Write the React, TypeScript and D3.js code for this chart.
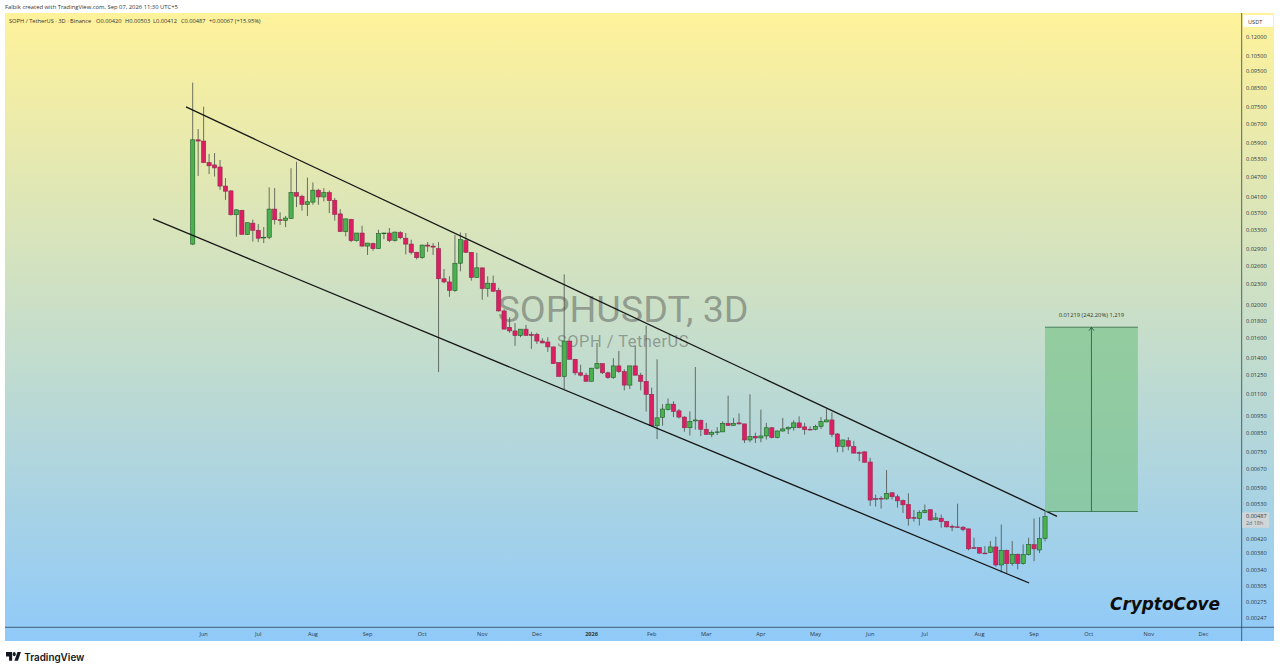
import { useEffect, useRef } from 'react';
import * as d3 from 'd3';

// SOPH / TetherUS 3D candles
const opens = [
  .0300, .0602, .0597, .0517, .0509, .0502, .0442, .0428, .0365, .0376,
  .0320, .0345, .0329, .0313, .0314, .0379, .0353, .0351, .0356, .0423,
  .0413, .0391, .0397, .0430, .0411, .0423, .0402, .0367, .0326, .0354,
  .0307, .0323, .0296, .0301, .0291, .0323, .0323, .0307, .0324, .0312,
  .0300, .0284, .0274, .0298, .0296, .0291, .0238, .0233, .0220, .0264,
  .0307, .0284, .0240, .0256, .0223, .0231, .0220, .0192, .0172, .0168,
  .0163, .0170, .0164, .0164, .0157, .0156, .0151, .0136, .0124, .0157,
  .0139, .0127, .0125, .0120, .0131, .0135, .0127, .0123, .0133, .0128,
  .0117, .0133, .0125, .0120, .0110, .00892, .00943, .00993, .0103, .00985,
  .00945, .0088, .00921, .00925, .00871, .00842, .00853, .00856, .00906, .00894,
  .00909, .00903, .00811, .00831, .00822, .00833, .0088, .00824, .00861, .00873,
  .0088, .00909, .00885, .00871, .00871, .00888, .00915, .00927, .00844, .00776,
  .00807, .00776, .00745, .00749, .00700, .00548, .00549, .00547, .00570, .00555,
  .00541, .00527, .00483, .00480, .00499, .00509, .00477, .00481, .0047, .00455,
  .00454, .00453, .00448, .00395, .00395, .00381, .00383, .00397, .00352, .00388,
  .00355, .00378, .00355, .00377, .00403, .00389, .0042,
];
const highs = [
  .0882, .0647, .0751, .0548, .0551, .0526, .0466, .0429, .0379, .0377,
  .0346, .0353, .0343, .0336, .0438, .0436, .0371, .0362, .0498, .0520,
  .0417, .0468, .0453, .0434, .0436, .0429, .0408, .0379, .0355, .0355,
  .0323, .0339, .0302, .0303, .0330, .0324, .0334, .0326, .0327, .0323,
  .0309, .0285, .0299, .0304, .0302, .0304, .0254, .0242, .0319, .0324,
  .0323, .0284, .0283, .0256, .0242, .0243, .0224, .0194, .0184, .0177,
  .0170, .0175, .0167, .0166, .0160, .0161, .0151, .0136, .0245, .0157,
  .0139, .0134, .0127, .0131, .0155, .0135, .0128, .0140, .0147, .0130,
  .0133, .0152, .0127, .0174, .0115, .0139, .0103, .0107, .0105, .00997,
  .0095, .00982, .0132, .00929, .00909, .00865, .00883, .00918, .0109, .0094,
  .00968, .00903, .0110, .00851, .00993, .00909, .00883, .00865, .0094, .00888,
  .00925, .0095, .00909, .00888, .00898, .00945, .00997, .00975, .0085, .00813,
  .00826, .00806, .00752, .00752, .00720, .00563, .00557, .00663, .00572, .00563,
  .00545, .00568, .00508, .00507, .00527, .0051, .00499, .00493, .00472, .00461,
  .0053, .00456, .00448, .00422, .00396, .00399, .00413, .00425, .00461, .0039,
  .00413, .0038, .00404, .00422, .0048, .00484, .00503,
];
const lows = [
  .0298, .0473, .0515, .0479, .0471, .0431, .0403, .0363, .0315, .0320,
  .0319, .0305, .0304, .0302, .0310, .0342, .0341, .0336, .0356, .0384,
  .0375, .0362, .0390, .0390, .0399, .0369, .0351, .0326, .0316, .0304,
  .0305, .0295, .0279, .0287, .0291, .0310, .0304, .0305, .0310, .0280,
  .0280, .0271, .0272, .0285, .0279, .01277, .0231, .0211, .0218, .0250,
  .0283, .0235, .0240, .0207, .0211, .0218, .0191, .0170, .0166, .0152,
  .0161, .0163, .0149, .0154, .0155, .0146, .0135, .0124, .0114, .0139,
  .0125, .0124, .0120, .0120, .0130, .0126, .0122, .0122, .0127, .0113,
  .0114, .0125, .0113, .0098, .00888, .00816, .00892, .00988, .00945, .00936,
  .00857, .00835, .00869, .00832, .0084, .00826, .00838, .00856, .00892, .00892,
  .00900, .00795, .00799, .00795, .00799, .00813, .0082, .0082, .00858, .00844,
  .00863, .00877, .0084, .00865, .00865, .00873, .00912, .00826, .00747, .00747,
  .00757, .00741, .00704, .00697, .00522, .0052, .00513, .00545, .00545, .00516,
  .00498, .00458, .0047, .00458, .00497, .00474, .00475, .00451, .00452, .00441,
  .00451, .00441, .00388, .00392, .00379, .00379, .00381, .00348, .00335, .00333,
  .0035, .00342, .00353, .00375, .00361, .00381, .00412,
];
const closes = [
  .0602, .0597, .0517, .0506, .0499, .0442, .0427, .0365, .0377, .0320,
  .0346, .0329, .0312, .0314, .0379, .0353, .0351, .0357, .0423, .0413,
  .0391, .0398, .0430, .0411, .0423, .0401, .0366, .0326, .0355, .0307,
  .0323, .0296, .0302, .0291, .0322, .0323, .0307, .0325, .0313, .0300,
  .0284, .0274, .0298, .0296, .0294, .0238, .0233, .0220, .0264, .0309,
  .0284, .0240, .0256, .0223, .0231, .0219, .0192, .0170, .0168, .0163,
  .0170, .0163, .0163, .0157, .0155, .0151, .0135, .0124, .0157, .0139,
  .0127, .0125, .0120, .0131, .0135, .0127, .0123, .0133, .0128, .0117,
  .0133, .0125, .0120, .0110, .00892, .0094, .00997, .0103, .00982, .00945,
  .0088, .00918, .00927, .00871, .00842, .00853, .00856, .00906, .00894, .00906,
  .00903, .00811, .00829, .00822, .00833, .0088, .00824, .00861, .00873, .00881,
  .00909, .00881, .00869, .00867, .00888, .00917, .00927, .00842, .00776, .00811,
  .00778, .00743, .00743, .00699, .00543, .00547, .00548, .00568, .00555, .0054,
  .00526, .0048, .00482, .00499, .00507, .00475, .00482, .0047, .00454, .00454,
  .00453, .00446, .00392, .00394, .00381, .0038, .00397, .00352, .00388, .00355,
  .00378, .00355, .00377, .00403, .00392, .0042, .00487,
];

const priceTicks = [
  .12, .105, .095, .085, .075, .067, .059, .053, .047, .041, .037, .033, .029, .026, .023,
  .02, .018, .016, .014, .0125, .011, .0095, .0085, .0075, .0067, .0059, .0053,
  .0042, .0038, .0034, .00305, .00275, .00247,
];
const monthLabels = ['Jun', 'Jul', 'Aug', 'Sep', 'Oct', 'Nov', 'Dec', '2026', 'Feb', 'Mar', 'Apr', 'May', 'Jun', 'Jul', 'Aug', 'Sep', 'Oct', 'Nov', 'Dec'];
const monthBars = [2, 12, 22, 32, 42, 53, 63, 73, 84, 94, 104, 114, 124, 134, 144, 154, 164, 175, 185];

const legendTexts = ['SOPH / TetherUS · 3D · Binance', 'O0.00420', 'H0.00503', 'L0.00412', 'C0.00487', '+0.00067 (+15.95%)'];
const legendLefts = [9, 96, 125, 153, 181, 209];

// drawings: [bar, price] at both ends
const upperChannel = [[-1.23, .075], [158.2, .00487]];
const lowerChannel = [[-7.26, .0355], [153.1, .00312]];
const targetBars = [156, 173];
const targetPrices = [.00503, .01722];

const lastPrice = .00487;

export default function App() {
  const svgRef = useRef<SVGSVGElement>(null);

  useEffect(() => {
    const svg = d3.select(svgRef.current);
    svg.selectAll('*').remove();

    const left = 5;
    const right = 1274;
    const top = 13;
    const bottom = 641;
    const axisX = 1241.7;
    const axisY = 627.3;

    const x = d3.scaleLinear().domain([0, 156]).range([192.7, 1045]);
    const y = d3.scaleLog().domain([.12, .00247]).range([36.5, 618]);

    const defs = svg.append('defs');
    const grad = defs.append('linearGradient').attr('id', 'bg').attr('x1', 0).attr('y1', 0).attr('x2', 0).attr('y2', 1);
    grad.append('stop').attr('offset', '0%').attr('stop-color', '#fff29a');
    grad.append('stop').attr('offset', '100%').attr('stop-color', '#90caf9');

    svg.append('rect').attr('width', 1280).attr('height', 671).attr('fill', '#fff');
    svg.append('rect').attr('x', left).attr('y', top).attr('width', right - left).attr('height', bottom - top).attr('fill', 'url(#bg)');

    // watermark sits under the candles
    svg.append('text').attr('x', 623).attr('y', 321.5).attr('text-anchor', 'middle')
      .attr('font-family', 'Roboto').attr('font-size', 37.7).attr('fill', '#3c3c3c').attr('fill-opacity', 0.42)
      .text('SOPHUSDT, 3D');
    svg.append('text').attr('x', 623).attr('y', 347).attr('text-anchor', 'middle')
      .attr('font-family', 'Roboto').attr('font-size', 16.4).attr('letter-spacing', 0.5).attr('fill', '#3c3c3c').attr('fill-opacity', 0.42)
      .text('SOPH / TetherUS');

    // candles
    const candles = d3.range(opens.length);
    const g = svg.append('g');
    g.selectAll('line').data(candles).enter().append('line')
      .attr('x1', i => x(i)).attr('x2', i => x(i))
      .attr('y1', i => y(highs[i])).attr('y2', i => y(lows[i]))
      .attr('stroke', '#4a4f48').attr('stroke-width', 0.8);
    g.selectAll('rect').data(candles).enter().append('rect')
      .attr('x', i => x(i) - 2.1).attr('width', 4.2)
      .attr('y', i => y(Math.max(opens[i], closes[i])))
      .attr('height', i => Math.max(0.7, Math.abs(y(opens[i]) - y(closes[i]))))
      .attr('fill', i => (closes[i] >= opens[i] ? '#4caf50' : '#dc1f63'))
      .attr('stroke', i => (closes[i] >= opens[i] ? '#1e5e28' : '#8f2a4e'))
      .attr('stroke-width', 0.6);

    // channel
    const channel = d3.line<number[]>().x(d => x(d[0])).y(d => y(d[1]));
    [upperChannel, lowerChannel].forEach(c => {
      svg.append('path').attr('d', channel(c)).attr('fill', 'none').attr('stroke', '#161616').attr('stroke-width', 1.3);
    });

    // long position target
    const bx0 = x(targetBars[0]);
    const bx1 = x(targetBars[1]);
    const by0 = y(targetPrices[0]);
    const by1 = y(targetPrices[1]);
    const mid = (bx0 + bx1) / 2;
    svg.append('rect').attr('x', bx0).attr('y', by1).attr('width', bx1 - bx0).attr('height', by0 - by1)
      .attr('fill', '#7fc58e').attr('fill-opacity', 0.72);
    svg.append('line').attr('x1', bx0).attr('x2', bx1).attr('y1', by1).attr('y2', by1).attr('stroke', '#2f6b45').attr('stroke-width', 0.8);
    svg.append('line').attr('x1', bx0).attr('x2', bx1).attr('y1', by0).attr('y2', by0).attr('stroke', '#2f6b45').attr('stroke-width', 0.8);
    svg.append('line').attr('x1', mid).attr('x2', mid).attr('y1', by1).attr('y2', by0).attr('stroke', '#24543c').attr('stroke-width', 0.8);
    svg.append('path').attr('d', `M${mid - 2.5},${by1 + 3.5}L${mid},${by1}L${mid + 2.5},${by1 + 3.5}`)
      .attr('fill', 'none').attr('stroke', '#24543c').attr('stroke-width', 0.8);
    svg.append('text').attr('x', mid).attr('y', by1 - 10).attr('text-anchor', 'middle')
      .attr('font-family', 'Open Sans').attr('font-size', 5.8).attr('fill', '#2b3a33')
      .text('0.01219 (242.20%) 1,219');

    // axes
    svg.append('line').attr('x1', axisX).attr('x2', axisX).attr('y1', top).attr('y2', bottom).attr('stroke', '#2c4257').attr('stroke-width', 0.8);
    svg.append('line').attr('x1', left).attr('x2', right).attr('y1', axisY).attr('y2', axisY).attr('stroke', '#2c4257').attr('stroke-width', 0.8);

    svg.append('g').selectAll('text').data(priceTicks).enter().append('text')
      .attr('x', 1246).attr('y', d => y(d) + 2)
      .attr('font-family', 'Open Sans').attr('font-size', 5.6).attr('fill', '#2d3a3f')
      .text(d => d.toFixed(5));

    svg.append('g').selectAll('text').data(monthLabels).enter().append('text')
      .attr('x', (_, i) => x(monthBars[i])).attr('y', 636).attr('text-anchor', 'middle')
      .attr('font-family', 'Open Sans').attr('font-size', 5.6).attr('fill', '#2d3a3f')
      .attr('font-weight', d => (d === '2026' ? 700 : 400))
      .text(d => d);

    // currency tag and last price
    svg.append('rect').attr('x', 1243).attr('y', 15).attr('width', 30).attr('height', 12).attr('fill', '#fff');
    svg.append('text').attr('x', 1248).attr('y', 24).attr('font-family', 'Open Sans').attr('font-size', 5.6).attr('fill', '#333').text('USDT');

    svg.append('rect').attr('x', 1242.2).attr('y', y(lastPrice) - 4).attr('width', 27).attr('height', 15.5).attr('fill', '#cfd6da');
    svg.append('text').attr('x', 1246).attr('y', y(lastPrice) + 2).attr('font-family', 'Open Sans').attr('font-size', 5.6).attr('fill', '#2d3a3f').text(lastPrice.toFixed(5));
    svg.append('text').attr('x', 1246).attr('y', y(lastPrice) + 9).attr('font-family', 'Open Sans').attr('font-size', 5.4).attr('fill', '#6a6a6a').text('2d 18h');

    // header text
    svg.append('text').attr('x', 5).attr('y', 9).attr('font-family', 'Open Sans').attr('font-size', 5.85).attr('fill', '#333')
      .text('Falbik created with TradingView.com, Sep 07, 2026 11:30 UTC+5');
    svg.append('g').selectAll('text').data(legendTexts).enter().append('text')
      .attr('x', (_, i) => legendLefts[i]).attr('y', 22.5)
      .attr('font-family', 'Open Sans').attr('font-size', 5.7).attr('fill', '#333')
      .text(d => d);

    svg.append('text').attr('x', 1110).attr('y', 609.5).attr('font-family', 'DejaVu Sans').attr('font-style', 'italic').attr('font-weight', 700)
      .attr('font-size', 16.9).attr('fill', '#0d0d0d').text('CryptoCove');

    // TradingView logo
    const logo = svg.append('g').attr('transform', 'translate(6,652) scale(0.88,1.25)').attr('fill', '#131722');
    logo.append('path').attr('d', 'M0,0H7V7H3.5V3.5H0Z');
    logo.append('circle').attr('cx', 9.4).attr('cy', 1.7).attr('r', 1.7);
    logo.append('path').attr('d', 'M13,0H17L13.6,7H9.6Z');
    svg.append('text').attr('x', 24.2).attr('y', 660.5).attr('font-family', 'Inter').attr('font-weight', 600)
      .attr('font-size', 9.9).attr('fill', '#131722').text('TradingView');
  }, []);

  return <svg ref={svgRef} width={1280} height={671} style={{ position: 'absolute', left: 0, top: 0 }}></svg>;
}
